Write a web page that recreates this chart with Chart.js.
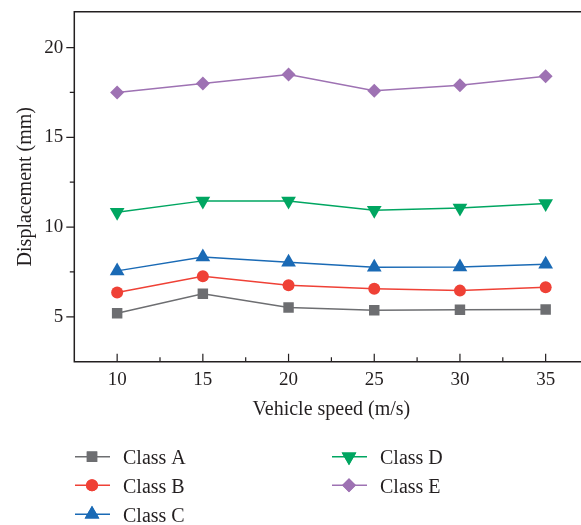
<!DOCTYPE html>
<html><head><meta charset="utf-8">
<script src="https://cdn.jsdelivr.net/npm/chart.js@4/dist/chart.umd.min.js"></script>
<style>html{overflow:hidden;margin:0;padding:0;background:#fff}body{margin:0;padding:0;background:#fff;width:610px;height:525px}canvas{display:block}</style>
</head><body><canvas id="c" width="597" height="525" style="width:597px;height:525px"></canvas>
<script>
const speeds = [10, 15, 20, 25, 30, 35];
const classA = [5.2, 6.28, 5.52, 5.37, 5.39, 5.41];
const classB = [6.35, 7.26, 6.76, 6.56, 6.46, 6.65];
const classC = [7.56, 8.33, 8.04, 7.76, 7.78, 7.93];
const classD = [10.82, 11.46, 11.46, 10.94, 11.07, 11.31];
const classE = [17.5, 18.0, 18.5, 17.6, 17.9, 18.4];
const seriesNames = ['Class A', 'Class B', 'Class C', 'Class D', 'Class E'];
const xTicks = [10, 15, 20, 25, 30, 35];
const xMinorTicks = [12.5, 17.5, 22.5, 27.5, 32.5];
const yTicks = [5, 10, 15, 20];
const yMinorTicks = [7.5, 12.5, 17.5];
const xTitle = 'Vehicle speed (m/s)';
const yTitle = 'Displacement (mm)';

const FONT = '"Liberation Serif", "DejaVu Serif", serif';
const INK = '#231f20';
const styles = [
  {color: '#6d6e71', pointStyle: 'rect', radius: 7.4, rotation: 0},
  {color: '#ef4136', pointStyle: 'circle', radius: 6, rotation: 0},
  {color: '#1a6ab5', pointStyle: 'triangle', radius: 8.5, rotation: 0},
  {color: '#00a661', pointStyle: 'triangle', radius: 8.5, rotation: 180},
  {color: '#9e72b3', pointStyle: 'rectRot', radius: 7, rotation: 0}
];
const allSeries = [classA, classB, classC, classD, classE];

const datasets = allSeries.map((vals, i) => ({
  label: seriesNames[i],
  data: vals.map((v, j) => ({x: speeds[j], y: v})),
  borderColor: styles[i].color,
  backgroundColor: styles[i].color,
  borderWidth: 1.5,
  pointStyle: styles[i].pointStyle,
  pointRadius: styles[i].radius,
  pointHoverRadius: styles[i].radius,
  pointRotation: styles[i].rotation,
  pointBorderWidth: 0,
  tension: 0
}));

const framePlugin = {
  id: 'frame',
  afterDraw(chart) {
    const ctx = chart.ctx;
    const a = chart.chartArea;
    const xs = chart.scales.x, ys = chart.scales.y;
    ctx.save();
    ctx.strokeStyle = INK;
    ctx.lineWidth = 1.5;
    ctx.beginPath();
    ctx.moveTo(a.left, a.bottom); ctx.lineTo(a.left, a.top); ctx.lineTo(a.right, a.top); ctx.lineTo(a.right, a.bottom); ctx.closePath();
    ctx.stroke();
    ctx.lineWidth = 1.2;
    ctx.beginPath();
    xTicks.forEach(v => { const p = xs.getPixelForValue(v); ctx.moveTo(p, a.bottom); ctx.lineTo(p, a.bottom - 8); });
    xMinorTicks.forEach(v => { const p = xs.getPixelForValue(v); ctx.moveTo(p, a.bottom); ctx.lineTo(p, a.bottom - 4.5); });
    yTicks.forEach(v => { const p = ys.getPixelForValue(v); ctx.moveTo(a.left, p); ctx.lineTo(a.left - 8, p); });
    yMinorTicks.forEach(v => { const p = ys.getPixelForValue(v); ctx.moveTo(a.left, p); ctx.lineTo(a.left - 4.5, p); });
    ctx.stroke();

    // legend
    const cols = [{lineX: 75, markX: 92, textX: 123}, {lineX: 332, markX: 349, textX: 380}];
    const baselines = [464, 492.6, 521.5];
    ctx.font = '20px ' + FONT;
    ctx.textBaseline = 'alphabetic';
    ctx.textAlign = 'left';
    datasets.forEach((ds, i) => {
      const col = cols[i < 3 ? 0 : 1];
      const row = i < 3 ? i : i - 3;
      const yb = baselines[row];
      const ly = yb - 7.3;
      ctx.strokeStyle = ds.borderColor;
      ctx.lineWidth = 1.5;
      ctx.beginPath(); ctx.moveTo(col.lineX, ly); ctx.lineTo(col.lineX + 35, ly); ctx.stroke();
      ctx.fillStyle = ds.backgroundColor;
      Chart.helpers.drawPoint(ctx, {pointStyle: ds.pointStyle, radius: ds.pointRadius, rotation: ds.pointRotation, borderWidth: 0}, col.markX, ly);
      ctx.fill();
      ctx.fillStyle = INK;
      ctx.fillText(ds.label, col.textX, yb);
    });
    ctx.restore();
  }
};

new Chart(document.getElementById('c'), {
  type: 'line',
  data: {datasets},
  options: {
    responsive: false,
    animation: false,
    layout: {padding: {top: 11.7, right: 1.4, bottom: 0, left: 0}},
    plugins: {legend: {display: false}, tooltip: {enabled: false}},
    scales: {
      x: {
        type: 'linear', min: 7.5, max: 37.5,
        grid: {display: false, drawTicks: false},
        border: {display: false},
        afterBuildTicks: s => { s.ticks = xTicks.map(v => ({value: v})); },
        afterFit: s => { s.height = 525 - 361.7; s.paddingLeft = 0; s.paddingRight = 0; },
        ticks: {padding: 6.5, color: INK, font: {family: FONT, size: 19}, maxRotation: 0, autoSkip: false},
        title: {display: true, text: xTitle, color: INK, font: {family: FONT, size: 20}, padding: {top: 4, bottom: 103}}
      },
      y: {
        type: 'linear', min: 2.5, max: 22,
        grid: {display: false, drawTicks: false},
        border: {display: false},
        afterBuildTicks: s => { s.ticks = yTicks.map(v => ({value: v})); },
        afterFit: s => { s.width = 74.3; s.paddingTop = 0; s.paddingBottom = 0; },
        ticks: {padding: 11, color: INK, font: {family: FONT, size: 19}, autoSkip: false},
        title: {display: true, text: yTitle, color: INK, font: {family: FONT, size: 20}, padding: {top: 13.7, bottom: 0}}
      }
    }
  },
  plugins: [framePlugin]
});
</script>
</body></html>
